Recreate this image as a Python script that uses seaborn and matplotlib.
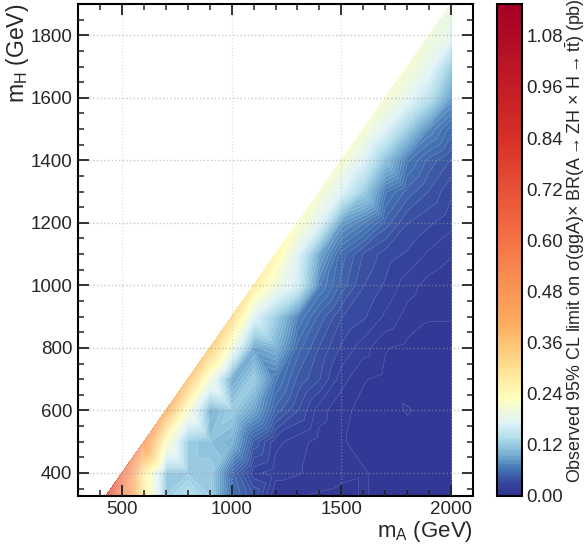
"""Observed limit on A -> ZH -> Z ttbar in the mA, mH plane."""
import matplotlib
matplotlib.use("Agg")
import matplotlib.pyplot as plt
import numpy as np
import seaborn as sns
from matplotlib.colors import FuncNorm

# limits (pb) per mH row; each row runs from mA = mH + 100 up to 2000 in steps of 100
MH_ROWS = [400, 500, 600, 700, 800, 900, 1000, 1100, 1200, 1300, 1400, 1500, 1600, 1700, 1800, 1900]
LIMIT_330_MA = [430, 500, 600, 700, 800, 900, 1000, 1100, 1200, 1300, 1400, 1500, 1600, 1700, 1800, 1900, 2000]
LIMIT_330 = [0.80, 0.55, 0.26, 0.12, 0.14, 0.12, 0.06, 0.04, 0.012, 0.012, 0.011, 0.01, 0.012, 0.01, 0.01, 0.01, 0.01]
LIMIT_400 = [0.62, 0.26, 0.12, 0.12, 0.12, 0.055, 0.025, 0.02, 0.018, 0.015, 0.013, 0.012, 0.01, 0.011, 0.01, 0.009]
LIMIT_500 = [0.48, 0.22, 0.12, 0.11, 0.10, 0.045, 0.025, 0.02, 0.015, 0.012, 0.01, 0.009, 0.009, 0.009, 0.009]
LIMIT_600 = [0.40, 0.21, 0.10, 0.12, 0.09, 0.05, 0.035, 0.02, 0.013, 0.01, 0.009, 0.012, 0.01, 0.009]
LIMIT_700 = [0.36, 0.20, 0.09, 0.12, 0.065, 0.045, 0.035, 0.02, 0.012, 0.01, 0.009, 0.009, 0.009]
LIMIT_800 = [0.34, 0.20, 0.09, 0.10, 0.055, 0.04, 0.028, 0.02, 0.012, 0.01, 0.009, 0.009]
LIMIT_900 = [0.31, 0.17, 0.12, 0.07, 0.05, 0.035, 0.03, 0.022, 0.015, 0.012, 0.012]
LIMIT_1000 = [0.27, 0.20, 0.16, 0.07, 0.05, 0.035, 0.028, 0.02, 0.015, 0.012]
LIMIT_1100 = [0.25, 0.17, 0.09, 0.055, 0.04, 0.032, 0.028, 0.022, 0.018]
LIMIT_1200 = [0.22, 0.17, 0.085, 0.07, 0.05, 0.035, 0.03, 0.025]
LIMIT_1300 = [0.21, 0.17, 0.12, 0.065, 0.05, 0.04, 0.03]
LIMIT_1400 = [0.21, 0.17, 0.11, 0.065, 0.05, 0.04]
LIMIT_1500 = [0.21, 0.17, 0.12, 0.075, 0.055]
LIMIT_1600 = [0.21, 0.18, 0.14, 0.085]
LIMIT_1700 = [0.21, 0.18, 0.12]
LIMIT_1800 = [0.20, 0.18]
LIMIT_1900 = [0.19]

X_TICKS = [500, 1000, 1500, 2000]
Y_TICKS = [400, 600, 800, 1000, 1200, 1400, 1600, 1800]
CBAR_TICKS = [0.0, 0.12, 0.24, 0.36, 0.48, 0.60, 0.72, 0.84, 0.96, 1.08]
# limit value -> position along RdYlBu_r
NORM_VALUES = [0.0, 0.025, 0.063, 0.095, 0.13, 0.17, 0.228, 0.30, 0.40, 0.62, 0.84, 1.155]
NORM_POS = [0.0, 0.02, 0.10, 0.20, 0.30, 0.40, 0.50, 0.60, 0.70, 0.80, 0.90, 1.0]

ROWS = [LIMIT_400, LIMIT_500, LIMIT_600, LIMIT_700, LIMIT_800, LIMIT_900, LIMIT_1000, LIMIT_1100,
        LIMIT_1200, LIMIT_1300, LIMIT_1400, LIMIT_1500, LIMIT_1600, LIMIT_1700, LIMIT_1800, LIMIT_1900]


def main() -> None:
    sns.set_theme(style="ticks")
    plt.rcParams["font.family"] = ["Liberation Sans", "DejaVu Sans"]
    plt.rcParams["mathtext.fontset"] = "custom"
    plt.rcParams["mathtext.rm"] = "Liberation Sans"
    plt.rcParams["mathtext.it"] = "Liberation Sans:italic"

    ma = list(LIMIT_330_MA)
    mh = [330] * len(LIMIT_330_MA)
    limit = list(LIMIT_330)
    for row_mh, row in zip(MH_ROWS, ROWS):
        for i, val in enumerate(row):
            ma.append(row_mh + 100 + 100 * i)
            mh.append(row_mh)
            limit.append(val)

    cmap = sns.color_palette("RdYlBu_r", as_cmap=True)
    norm = FuncNorm(
        (lambda v: np.interp(v, NORM_VALUES, NORM_POS), lambda p: np.interp(p, NORM_POS, NORM_VALUES)),
        vmin=0.0, vmax=1.155,
    )
    levels = np.linspace(0.0, 1.155, 201)

    fig = plt.figure(figsize=(5.88, 5.45), dpi=100)
    ax = fig.add_axes([78 / 588, 1 - 495.5 / 545, 395 / 588, 491.5 / 545])
    cax = fig.add_axes([497 / 588, 1 - 495.5 / 545, 25 / 588, 491.5 / 545])

    filled = ax.tricontourf(ma, mh, limit, levels=levels, cmap=cmap, norm=norm, zorder=1)
    ax.tricontour(ma, mh, limit, levels=levels, colors="white", linewidths=0.35, alpha=0.25, zorder=2)

    ax.set_xlim(300, 2100)
    ax.set_ylim(328, 1900)
    ax.set_xticks(X_TICKS)
    ax.set_yticks(Y_TICKS)
    ax.set_xticks(np.arange(400, 2100, 100), minor=True)
    ax.set_yticks(np.arange(350, 1900, 50), minor=True)
    ax.grid(True, which="major", axis="y", color="#999999", linestyle=":", linewidth=1, alpha=0.55, zorder=3)
    ax.grid(True, which="major", axis="x", color="#bbbbbb", linestyle=":", linewidth=0.9, alpha=0.45, zorder=3)
    ax.set_axisbelow(False)
    ax.tick_params(which="major", direction="in", length=8, width=1.3, top=True, right=True, labelsize=13.5, color="#222222", pad=4)
    ax.tick_params(which="minor", direction="in", length=4, width=1.1, top=True, right=True, color="#222222")
    for spine in ax.spines.values():
        spine.set_linewidth(1.5)
        spine.set_color("black")
    ax.set_xlabel(r"$\mathrm{m_A}$ (GeV)", fontsize=16, loc="right", labelpad=1)
    ax.set_ylabel(r"$\mathrm{m_H}$ (GeV)", fontsize=16.5, loc="top", labelpad=0)

    cbar = fig.colorbar(filled, cax=cax)
    cbar.set_ticks(CBAR_TICKS)
    cbar.set_ticklabels([f"{t:.2f}" for t in CBAR_TICKS])
    cbar.ax.set_yticks([t + s for t in CBAR_TICKS for s in (0.03, 0.06, 0.09) if t + s < 1.155], minor=True)
    cbar.ax.tick_params(which="major", direction="in", length=7, width=1.1, right=True, labelsize=13.5, color="#333333", pad=3)
    cbar.ax.tick_params(which="minor", direction="in", length=4, width=1.0, right=True, color="#333333")
    cbar.outline.set_linewidth(1.5)
    cbar.outline.set_edgecolor("black")
    fig.text(
        575.5 / 588, 1 - 241 / 545,
        r"Observed 95% CL limit on $\mathrm{\sigma}$(ggA)$\times$ BR(A$\rightarrow$ZH$\,\times\,$H$\rightarrow$t$\bar{\mathrm{t}}$) (pb)",
        rotation=90, ha="center", va="center", fontsize=12.9,
    )

    fig.savefig("out.png", dpi=100)
    plt.close(fig)


if __name__ == "__main__":
    main()
